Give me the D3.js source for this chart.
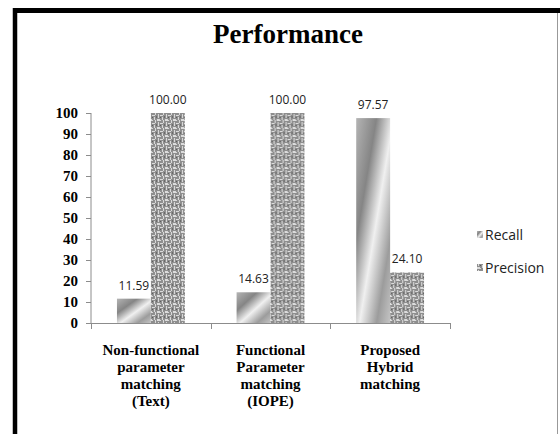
<!DOCTYPE html>
<html>
<head>
<meta charset="utf-8">
<script src="https://cdn.jsdelivr.net/npm/d3@7"></script>
<style>
  html, body { margin: 0; padding: 0; background: #fff; }
  svg { display: block; }
</style>
</head>
<body>
<div id="chart"></div>
<script>
(function () {
  'use strict';

  // data
  var categories = [
    ['Non-functional', 'parameter', 'matching', '(Text)'],
    ['Functional', 'Parameter', 'matching', '(IOPE)'],
    ['Proposed', 'Hybrid', 'matching']
  ];
  var seriesNames = ['Recall', 'Precision'];
  var recall = [11.59, 14.63, 97.57];
  var precision = [100.00, 100.00, 24.10];
  var yTicks = [0, 10, 20, 30, 40, 50, 60, 70, 80, 90, 100];

  var W = 560, H = 434;
  var svg = d3.select('#chart').append('svg').attr('width', W).attr('height', H);
  var defs = svg.append('defs');

  // Recall: diagonal gray gradient
  var grad = defs.append('linearGradient').attr('id', 'recallFill')
    .attr('x1', 0).attr('y1', 0).attr('x2', 1).attr('y2', 1);
  [[0, '#b4b4b4'], [0.3, '#858585'], [0.55, '#f0f0f0'], [0.8, '#9c9c9c'], [1, '#c4c4c4']]
    .forEach(function (s) { grad.append('stop').attr('offset', s[0]).attr('stop-color', s[1]); });

  // Precision: woven maze texture
  var pat = defs.append('pattern').attr('id', 'precFill')
    .attr('patternUnits', 'userSpaceOnUse').attr('width', 8).attr('height', 8);
  pat.append('rect').attr('width', 8).attr('height', 8).attr('fill', '#8e8e8e');
  var weave = [[0, 0, 4, 1], [6, 0, 1, 3], [1, 2, 1, 4], [3, 3, 3, 1], [5, 5, 1, 3], [0, 7, 3, 1]];
  weave.forEach(function (r) {
    pat.append('rect').attr('x', r[0]).attr('y', r[1]).attr('width', r[2]).attr('height', r[3]).attr('fill', '#dcdcdc');
  });
  pat.append('rect').attr('x', 3).attr('y', 5).attr('width', 1).attr('height', 1).attr('fill', '#5a5a5a');
  pat.append('rect').attr('x', 7).attr('y', 4).attr('width', 1).attr('height', 2).attr('fill', '#6a6a6a');

  var fills = ['url(#recallFill)', 'url(#precFill)'];

  // frame
  svg.append('line').attr('x1', 15).attr('x2', 15).attr('y1', 8).attr('y2', H)
    .attr('stroke', '#000').attr('stroke-width', 4.5);
  svg.append('line').attr('x1', 13).attr('x2', W).attr('y1', 10.5).attr('y2', 10.5)
    .attr('stroke', '#000').attr('stroke-width', 5);
  svg.append('line').attr('x1', 557.5).attr('x2', 557.5).attr('y1', 13).attr('y2', H)
    .attr('stroke', '#999').attr('stroke-width', 1);

  svg.append('text').attr('x', 288).attr('y', 43).attr('text-anchor', 'middle')
    .style('font-family', '"Liberation Serif", serif').style('font-weight', 'bold')
    .style('font-size', '27px').text('Performance');

  var x0 = d3.scaleBand().domain(d3.range(categories.length)).range([91, 450])
    .paddingInner(0.433).paddingOuter(0.217);
  var x1 = d3.scaleBand().domain(seriesNames).range([0, x0.bandwidth()]);
  var y = d3.scaleLinear().domain([0, 100]).range([323, 113]);

  // y axis
  var yAxis = svg.append('g').attr('transform', 'translate(91,0)')
    .call(d3.axisLeft(y).tickValues(yTicks).tickSize(5).tickPadding(8));
  yAxis.select('.domain').attr('stroke', '#8c8c8c').attr('d', 'M0,113V323');
  yAxis.selectAll('.tick line').attr('stroke', '#8c8c8c');
  yAxis.selectAll('.tick text')
    .style('font-family', '"Liberation Serif", serif').style('font-weight', 'bold')
    .style('font-size', '15px').attr('fill', '#000');

  // x axis
  var step = x0.step();
  var xEdges = [91].concat(d3.range(categories.length).map(function (i) { return 91 + step * (i + 1); }));
  svg.append('line').attr('x1', 91).attr('x2', 450).attr('y1', 323.5).attr('y2', 323.5)
    .attr('stroke', '#8c8c8c');
  svg.selectAll('.xtick').data(xEdges).enter().append('line')
    .attr('x1', function (d) { return Math.round(d) + 0.5; })
    .attr('x2', function (d) { return Math.round(d) + 0.5; })
    .attr('y1', 323).attr('y2', 329).attr('stroke', '#8c8c8c');

  // bars
  var groups = svg.selectAll('.grp').data(categories).enter().append('g')
    .attr('transform', function (d, i) { return 'translate(' + x0(i) + ',0)'; });

  groups.each(function (c, i) {
    var g = d3.select(this);
    var vals = [recall[i], precision[i]];
    vals.forEach(function (v, k) {
      g.append('rect')
        .attr('x', x1(seriesNames[k])).attr('width', x1.bandwidth())
        .attr('y', y(v)).attr('height', y(0) - y(v))
        .attr('fill', fills[k]);
      g.append('text')
        .attr('x', x1(seriesNames[k]) + x1.bandwidth() / 2).attr('y', y(v) - 9)
        .attr('text-anchor', 'middle')
        .style('font-family', '"Open Sans", sans-serif').style('font-size', '12px')
        .attr('fill', '#222').text(v.toFixed(2));
    });
    var lbl = g.append('text').attr('text-anchor', 'middle')
      .style('font-family', '"Liberation Serif", serif').style('font-weight', 'bold')
      .style('font-size', '15px');
    c.forEach(function (line, j) {
      lbl.append('tspan').attr('x', x0.bandwidth() / 2).attr('y', 355 + j * 17).text(line);
    });
  });

  // legend
  var leg = svg.selectAll('.leg').data(seriesNames).enter().append('g')
    .attr('transform', function (d, i) { return 'translate(477,' + (235 + i * 33) + ')'; });
  leg.append('rect').attr('x', 0).attr('y', -4).attr('width', 6).attr('height', 7)
    .attr('fill', function (d, i) { return fills[i]; });
  leg.append('text').attr('x', 8).attr('y', 0).attr('dy', '0.35em')
    .style('font-family', '"Open Sans", sans-serif').style('font-size', '14px')
    .attr('fill', '#222').text(function (d) { return d; });
})();
</script>
</body>
</html>
